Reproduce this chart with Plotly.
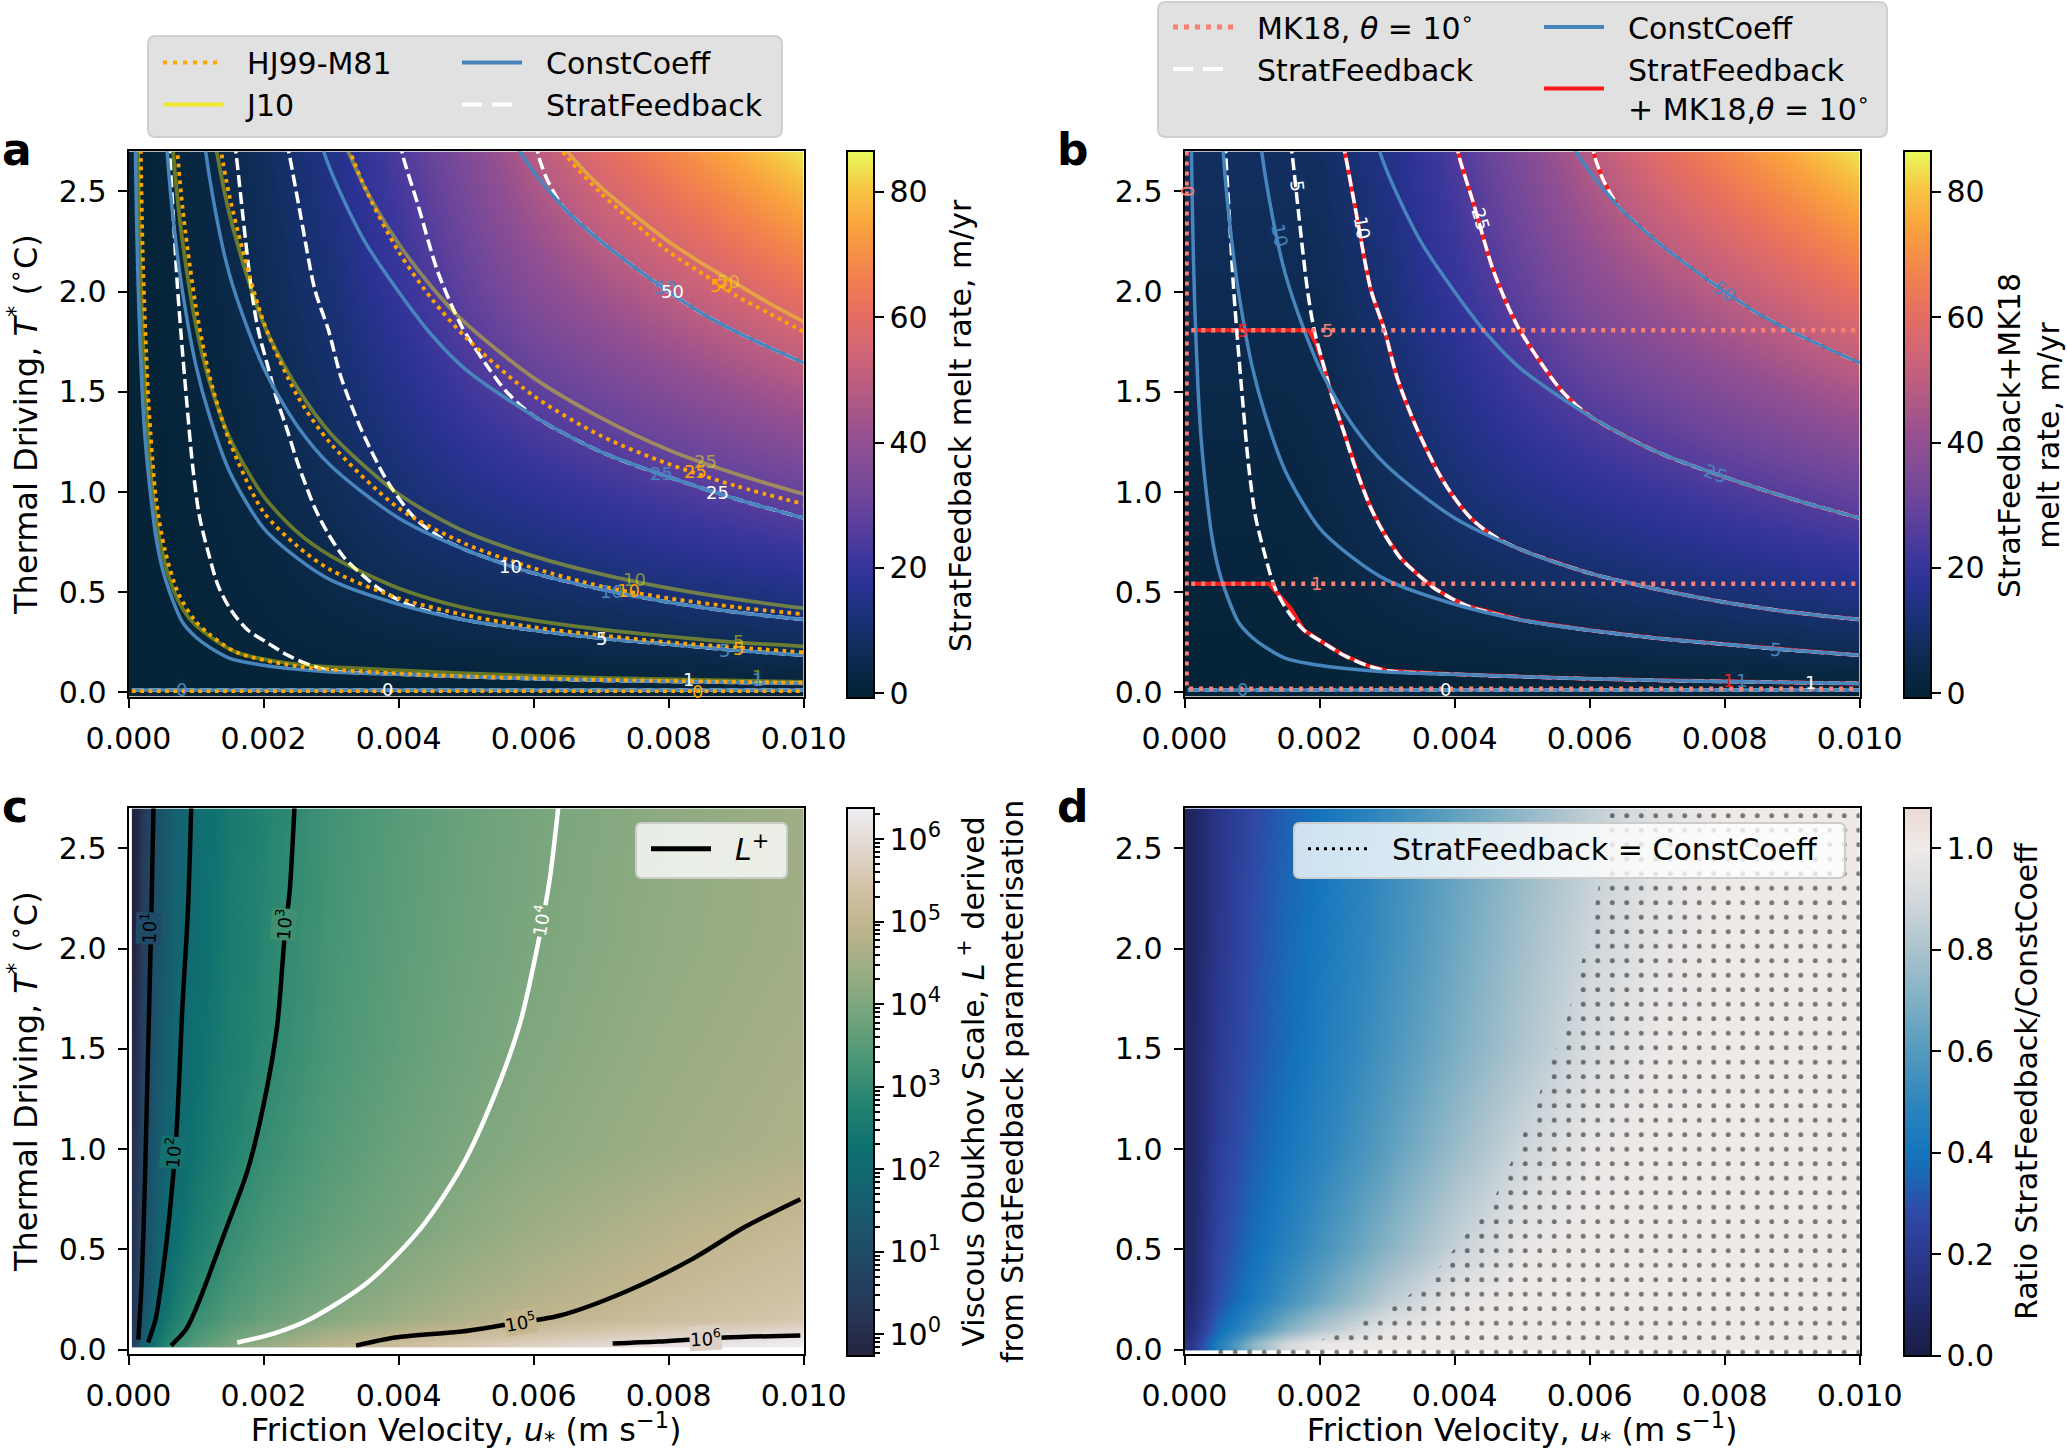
import plotly.graph_objects as go

W, H = 2067, 1453
FONT = "DejaVu Sans"

# ======================= values =======================
# ---- background fields of panels a and b (melt rate, m/yr) ----
U_AB = [0.0001, 0.0005, 0.0010, 0.0015, 0.0020, 0.0030, 0.0040, 0.0050, 0.0060, 0.0070, 0.0080, 0.0090, 0.0100]
T_AB = [0.02, 0.25, 0.5, 1.0, 1.5, 2.0, 2.7]
MELT_SF = [
    [0.00, 0.01, 0.03, 0.05, 0.06, 0.09, 0.12, 0.15, 0.18, 0.21, 0.24, 0.27, 0.30],
    [0.01, 0.12, 0.36, 0.70, 1.15, 2.16, 2.88, 3.60, 4.32, 5.04, 5.76, 6.48, 7.20],
    [0.01, 0.21, 0.63, 1.21, 1.94, 3.88, 5.88, 7.35, 8.82, 10.3, 11.8, 13.2, 14.7],
    [0.02, 0.37, 1.10, 2.14, 3.39, 6.77, 11.1, 14.9, 17.8, 20.8, 23.8, 26.7, 29.7],
    [0.04, 0.48, 1.50, 3.01, 4.74, 9.45, 15.4, 21.9, 27.4, 31.9, 36.5, 41.0, 45.6],
    [0.04, 0.62, 1.92, 3.81, 6.08, 11.9, 19.7, 28.3, 36.8, 43.5, 49.7, 55.8, 62.1],
    [0.06, 0.76, 2.47, 4.83, 7.77, 15.0, 24.4, 35.6, 48.3, 59.3, 67.8, 76.2, 84.7],
]
MELT_SF_MK18 = [
    [0.01, 0.01, 0.03, 0.05, 0.06, 0.09, 0.12, 0.15, 0.18, 0.21, 0.24, 0.27, 0.30],
    [0.36, 0.36, 0.36, 0.70, 1.15, 2.16, 2.88, 3.60, 4.32, 5.04, 5.76, 6.48, 7.20],
    [0.90, 0.90, 0.90, 1.21, 1.94, 3.88, 5.88, 7.35, 8.82, 10.3, 11.8, 13.2, 14.7],
    [2.27, 2.27, 2.27, 2.27, 3.39, 6.77, 11.1, 14.9, 17.8, 20.8, 23.8, 26.7, 29.7],
    [3.90, 3.90, 3.90, 3.90, 4.74, 9.45, 15.4, 21.9, 27.4, 31.9, 36.5, 41.0, 45.6],
    [5.70, 5.70, 5.70, 5.70, 6.08, 11.9, 19.7, 28.3, 36.8, 43.5, 49.7, 55.8, 62.1],
    [8.50, 8.50, 8.50, 8.50, 8.50, 15.0, 24.4, 35.6, 48.3, 59.3, 67.8, 76.2, 84.7],
]

# ---- panel c: log10 of the viscous Obukhov scale L+ ----
U_C = [0.0001, 0.0002, 0.0004, 0.0007, 0.0010, 0.0015, 0.0020, 0.0030, 0.0040, 0.0050, 0.0060, 0.0080, 0.0100]
T_C = [0.025, 0.05, 0.15, 0.3, 0.6, 1.0, 1.5, 2.0, 2.7]
LOG10_LPLUS = [
    [0.70, 1.60, 2.45, 3.12, 3.52, 3.98, 4.35, 4.86, 5.24, 5.52, 5.76, 6.13, 6.38],
    [0.56, 1.47, 2.35, 3.03, 3.41, 3.84, 4.18, 4.72, 5.10, 5.37, 5.60, 5.95, 6.23],
    [0.32, 1.21, 2.09, 2.74, 3.12, 3.48, 3.74, 4.13, 4.47, 4.73, 4.95, 5.28, 5.54],
    [0.29, 1.06, 1.82, 2.47, 2.89, 3.28, 3.54, 3.90, 4.22, 4.51, 4.74, 5.10, 5.38],
    [0.22, 0.91, 1.60, 2.17, 2.58, 3.03, 3.30, 3.67, 3.93, 4.20, 4.45, 4.83, 5.13],
    [0.11, 0.78, 1.46, 2.00, 2.36, 2.77, 3.07, 3.48, 3.77, 3.99, 4.18, 4.48, 4.71],
    [-0.06, 0.63, 1.32, 1.88, 2.23, 2.63, 2.91, 3.33, 3.63, 3.87, 4.06, 4.37, 4.61],
    [-0.24, 0.48, 1.20, 1.78, 2.14, 2.56, 2.86, 3.27, 3.57, 3.80, 3.98, 4.28, 4.51],
    [-0.42, 0.33, 1.09, 1.69, 2.08, 2.49, 2.79, 3.21, 3.51, 3.74, 3.93, 4.23, 4.47],
]

# ---- panel d: ratio StratFeedback / ConstCoeff ----
T_D = [0.03, 0.1, 0.25, 0.5, 1.0, 1.5, 2.0, 2.7]
RATIO = [
    [0.18, 0.46, 0.72, 0.90, 0.98, 1.00, 1.00, 1.00, 1.00, 1.00, 1.00, 1.00, 1.00],
    [0.14, 0.37, 0.55, 0.70, 0.82, 0.97, 1.00, 1.00, 1.00, 1.00, 1.00, 1.00, 1.00],
    [0.10, 0.29, 0.43, 0.55, 0.65, 0.84, 0.97, 1.00, 1.00, 1.00, 1.00, 1.00, 1.00],
    [0.09, 0.26, 0.38, 0.47, 0.56, 0.72, 0.87, 0.98, 1.00, 1.00, 1.00, 1.00, 1.00],
    [0.08, 0.23, 0.33, 0.41, 0.48, 0.62, 0.76, 0.89, 0.98, 1.00, 1.00, 1.00, 1.00],
    [0.08, 0.21, 0.30, 0.37, 0.44, 0.57, 0.69, 0.81, 0.92, 0.99, 1.00, 1.00, 1.00],
    [0.07, 0.19, 0.29, 0.36, 0.42, 0.54, 0.66, 0.78, 0.89, 0.97, 1.00, 1.00, 1.00],
    [0.07, 0.18, 0.27, 0.34, 0.40, 0.52, 0.63, 0.74, 0.85, 0.95, 1.00, 1.00, 1.00],
]
# region where StratFeedback = ConstCoeff (outline, u*, T*)
D_EQ_U = [0.00195, 0.00253, 0.00312, 0.00360, 0.00409, 0.00458, 0.00487, 0.00516, 0.00545,
          0.00565, 0.00579, 0.00599, 0.00613, 0.00623, 0.00631, 0.0102, 0.0102, 0.0004, 0.0004]
D_EQ_T = [0.035, 0.127, 0.22, 0.34, 0.54, 0.75, 0.96, 1.19, 1.45,
          1.63, 1.82, 2.07, 2.30, 2.49, 2.72, 2.72, -0.03, -0.03, 0.016]

# ---- melt-rate contour lines (u*, T*) ----
CC_0 = [(0.00005, 0.012), (0.0100, 0.012)]
CC_1 = [(0.00010, 2.75), (0.00012, 2.35), (0.00015, 1.95), (0.00020, 1.52), (0.00025, 1.25),
        (0.00030, 1.07), (0.00040, 0.79), (0.00050, 0.62), (0.00060, 0.51), (0.00080, 0.35),
        (0.00100, 0.275), (0.00120, 0.225), (0.00150, 0.17), (0.00200, 0.135), (0.00250, 0.115),
        (0.00300, 0.102), (0.00400, 0.09), (0.00500, 0.078), (0.00600, 0.068), (0.00700, 0.060),
        (0.00800, 0.054), (0.00900, 0.049), (0.01000, 0.045)]
CC_5 = [(0.00050, 3.1), (0.00060, 2.58), (0.00070, 2.25), (0.00080, 2.0), (0.00100, 1.63),
        (0.00120, 1.38), (0.00150, 1.1), (0.00200, 0.82), (0.00250, 0.67), (0.00300, 0.56),
        (0.00400, 0.44), (0.00500, 0.36), (0.00600, 0.31), (0.00700, 0.27), (0.00800, 0.24),
        (0.00900, 0.21), (0.01000, 0.185)]
CC_10 = [(0.00100, 3.1), (0.00120, 2.57), (0.00150, 2.08), (0.00200, 1.62), (0.00250, 1.33),
         (0.00300, 1.13), (0.00400, 0.87), (0.00500, 0.71), (0.00600, 0.595), (0.00700, 0.515),
         (0.00800, 0.45), (0.00900, 0.40), (0.01000, 0.364)]
CC_25 = [(0.00250, 3.1), (0.00300, 2.6), (0.00350, 2.25), (0.00400, 2.0), (0.00450, 1.78),
         (0.00500, 1.61), (0.00600, 1.38), (0.00700, 1.2), (0.00800, 1.075), (0.00900, 0.965),
         (0.01000, 0.87)]
CC_50 = [(0.00550, 2.85), (0.00600, 2.6), (0.00650, 2.4), (0.00700, 2.25), (0.00750, 2.12),
         (0.00800, 2.0), (0.00850, 1.89), (0.00900, 1.8), (0.00950, 1.72), (0.01000, 1.645)]

HJ_0 = [(0.00005, 0.006), (0.0100, 0.006)]
HJ_1 = [(0.00018, 2.75), (0.00021, 2.2), (0.00025, 1.8), (0.00030, 1.43), (0.00041, 0.96),
        (0.00054, 0.71), (0.00073, 0.50), (0.00098, 0.36), (0.0012, 0.29), (0.0016, 0.20),
        (0.0025, 0.13), (0.0037, 0.10), (0.0050, 0.08), (0.0070, 0.063), (0.0100, 0.048)]
HJ_5 = [(0.0006, 3.3), (0.0007, 2.8), (0.0008, 2.42), (0.0010, 1.92), (0.0012, 1.58),
        (0.0015, 1.25), (0.0020, 0.90), (0.0025, 0.73), (0.0030, 0.61), (0.0040, 0.47),
        (0.0050, 0.385), (0.0060, 0.325), (0.0070, 0.285), (0.0080, 0.25), (0.0090, 0.225),
        (0.0100, 0.20)]
HJ_10 = [(0.0013, 2.85), (0.0015, 2.47), (0.0020, 1.85), (0.0025, 1.48), (0.0030, 1.24),
         (0.0040, 0.92), (0.0050, 0.74), (0.0060, 0.62), (0.0070, 0.53), (0.0080, 0.47),
         (0.0090, 0.425), (0.0100, 0.39)]
HJ_25 = [(0.0030, 2.95), (0.0035, 2.52), (0.0040, 2.2), (0.0045, 1.96), (0.0050, 1.77),
         (0.0060, 1.48), (0.0070, 1.28), (0.0080, 1.14), (0.0090, 1.03), (0.0100, 0.94)]
HJ_50 = [(0.0060, 2.9), (0.0065, 2.67), (0.0070, 2.49), (0.0075, 2.34), (0.0080, 2.2),
         (0.0085, 2.09), (0.0090, 1.98), (0.0095, 1.89), (0.0100, 1.80)]

J10_1 = [(0.00014, 2.75), (0.00017, 2.2), (0.00021, 1.8), (0.00027, 1.4), (0.00036, 1.0),
         (0.00050, 0.70), (0.00068, 0.50), (0.00090, 0.37), (0.0012, 0.28), (0.0016, 0.20),
         (0.0025, 0.14), (0.0037, 0.115), (0.0050, 0.095), (0.0070, 0.072), (0.0100, 0.052)]
J10_5 = [(0.0006, 2.95), (0.0007, 2.55), (0.0008, 2.25), (0.0010, 1.83), (0.0012, 1.55),
         (0.0015, 1.27), (0.0020, 0.98), (0.0025, 0.80), (0.0030, 0.68), (0.0040, 0.52),
         (0.0050, 0.42), (0.0060, 0.36), (0.0070, 0.315), (0.0080, 0.28), (0.0090, 0.25),
         (0.0100, 0.23)]
J10_10 = [(0.0012, 2.9), (0.0015, 2.38), (0.0020, 1.84), (0.0025, 1.52), (0.0030, 1.29),
          (0.0040, 0.99), (0.0050, 0.80), (0.0060, 0.68), (0.0070, 0.59), (0.0080, 0.52),
          (0.0090, 0.465), (0.0100, 0.42)]
J10_25 = [(0.0030, 2.9), (0.0035, 2.52), (0.0040, 2.24), (0.0045, 2.02), (0.0050, 1.84),
          (0.0060, 1.57), (0.0070, 1.37), (0.0080, 1.21), (0.0090, 1.09), (0.0100, 0.99)]
J10_50 = [(0.0060, 2.95), (0.0065, 2.7), (0.0070, 2.52), (0.0075, 2.38), (0.0080, 2.25),
          (0.0085, 2.14), (0.0090, 2.04), (0.0095, 1.94), (0.0100, 1.85)]

SF_0 = [(0.00005, 0.012), (0.0100, 0.012)]
SF_1 = [(0.00060, 2.75), (0.00066, 2.4), (0.00072, 2.05), (0.00078, 1.78), (0.00086, 1.46),
        (0.00095, 1.13), (0.00105, 0.88), (0.00118, 0.70), (0.00133, 0.53), (0.00152, 0.41),
        (0.00177, 0.31), (0.00207, 0.245), (0.00236, 0.185), (0.0027, 0.135), (0.0030, 0.108),
        (0.0040, 0.09), (0.0050, 0.078), (0.0060, 0.068), (0.0070, 0.060), (0.0080, 0.054),
        (0.0090, 0.049), (0.0100, 0.045)]
SF_5 = [(0.00157, 2.75), (0.00160, 2.67), (0.00170, 2.36), (0.00182, 2.01), (0.00192, 1.81),
        (0.00207, 1.62), (0.00219, 1.47), (0.00236, 1.30), (0.00250, 1.15), (0.00262, 1.04),
        (0.00276, 0.92), (0.00296, 0.79), (0.00320, 0.67), (0.00345, 0.59), (0.00370, 0.52),
        (0.00395, 0.47), (0.0042, 0.43), (0.0050, 0.36), (0.0060, 0.31), (0.0070, 0.27),
        (0.0080, 0.24), (0.0090, 0.21), (0.0100, 0.185)]
SF_10 = [(0.00234, 2.75), (0.00239, 2.67), (0.00256, 2.36), (0.00276, 2.01), (0.00296, 1.81),
         (0.00315, 1.57), (0.00345, 1.31), (0.00384, 1.05), (0.00424, 0.87), (0.00463, 0.77),
         (0.0050, 0.71), (0.0060, 0.595), (0.0070, 0.515), (0.0080, 0.45), (0.0090, 0.40),
         (0.0100, 0.364)]
SF_25 = [(0.00402, 2.75), (0.00407, 2.67), (0.00429, 2.43), (0.00458, 2.10), (0.00493, 1.83),
         (0.00533, 1.62), (0.0056, 1.50), (0.0060, 1.38), (0.0070, 1.2), (0.0080, 1.075),
         (0.0090, 0.965), (0.0100, 0.87)]
SF_50 = [(0.00603, 2.75), (0.00608, 2.67), (0.0062, 2.56), (0.0064, 2.44), (0.0065, 2.4),
         (0.0070, 2.25), (0.0075, 2.12), (0.0080, 2.0), (0.0085, 1.89), (0.0090, 1.8),
         (0.0095, 1.72), (0.0100, 1.645)]

MK_0 = [(0.00003, 2.75), (0.00003, 0.018), (0.0100, 0.018)]
MK_1 = [(0.00010, 0.5425), (0.0100, 0.5425)]
MK_5 = [(0.00010, 1.808), (0.0100, 1.808)]
RED_1 = [(0.00013, 0.5425), (0.00125, 0.5425), (0.00157, 0.42), (0.00177, 0.31), (0.00207, 0.245),
         (0.00236, 0.185), (0.0027, 0.135), (0.0030, 0.108), (0.0040, 0.09), (0.0050, 0.078),
         (0.0060, 0.068), (0.0070, 0.060), (0.0080, 0.054), (0.0090, 0.049), (0.0100, 0.045)]
RED_5 = [(0.00014, 1.808), (0.00184, 1.808), (0.00195, 1.74), (0.00207, 1.62), (0.00219, 1.47),
         (0.00236, 1.30), (0.00250, 1.15), (0.00262, 1.04), (0.00276, 0.92), (0.00296, 0.79),
         (0.00320, 0.67), (0.00345, 0.59), (0.00370, 0.52), (0.00395, 0.47), (0.0042, 0.43),
         (0.0050, 0.36), (0.0060, 0.31), (0.0070, 0.27), (0.0080, 0.24), (0.0090, 0.21),
         (0.0100, 0.185)]

# ---- L+ contour lines (panel c) ----
LP_1 = [(0.000146, 0.05), (0.000195, 0.34), (0.00024, 0.8), (0.00029, 1.49), (0.00034, 2.19), (0.00037, 2.72)]
LP_2 = [(0.00029, 0.035), (0.00040, 0.15), (0.00049, 0.34), (0.00061, 0.68), (0.00071, 1.08),
        (0.00080, 1.72), (0.00088, 2.19), (0.00093, 2.72)]
LP_3 = [(0.00063, 0.02), (0.00085, 0.10), (0.00102, 0.22), (0.00141, 0.57), (0.00176, 0.89),
        (0.0020, 1.22), (0.0022, 1.61), (0.00231, 2.05), (0.00239, 2.30), (0.00246, 2.72)]
LP_4 = [(0.00161, 0.035), (0.00215, 0.08), (0.00268, 0.15), (0.00356, 0.34), (0.00434, 0.61),
        (0.00493, 0.91), (0.00541, 1.26), (0.0058, 1.63), (0.00608, 2.05), (0.00624, 2.35), (0.00637, 2.72)]
LP_5 = [(0.00337, 0.02), (0.00395, 0.06), (0.00493, 0.09), (0.00551, 0.12), (0.00639, 0.17),
        (0.00737, 0.29), (0.00834, 0.45), (0.00912, 0.61), (0.00995, 0.75)]
LP_6 = [(0.00717, 0.03), (0.00785, 0.04), (0.00883, 0.06), (0.00995, 0.07)]

# ---- contour labels: (u*, T*, text[, angle]) ----
LAB_A_SF = [(0.00805, 2.0, "50"), (0.00873, 1.0, "25"), (0.00566, 0.63, "10"),
            (0.0070, 0.27, "5"), (0.0083, 0.065, "1"), (0.00383, 0.012, "0")]
LAB_A_CC = [(0.00795, 2.02, "50"), (0.0079, 1.09, "25"), (0.00716, 0.506, "10"),
            (0.00883, 0.21, "5"), (0.00932, 0.065, "1"), (0.00078, 0.012, "0")]
LAB_A_HJ = [(0.00878, 2.03, "50"), (0.0084, 1.10, "25"), (0.0074, 0.51, "10"),
            (0.00904, 0.22, "5"), (0.00843, 0.006, "0")]
LAB_A_J10 = [(0.00888, 2.05, "50"), (0.00855, 1.15, "25"), (0.0075, 0.565, "10"),
             (0.00904, 0.256, "5"), (0.00932, 0.08, "1")]
LAB_B_CC = [(0.0080, 2.0, "50", 34), (0.00786, 1.09, "25", 20), (0.00141, 2.28, "10", 78),
            (0.00875, 0.215, "5", 5), (0.00825, 0.058, "1", 0), (0.00086, 0.012, "0", 0)]
LAB_B_SF = [(0.00167, 2.53, "5", 84), (0.00263, 2.32, "10", 80), (0.00439, 2.36, "25", 73),
            (0.00927, 0.05, "1", 0), (0.00387, 0.012, "0", 0)]
LAB_B_RED = [(0.00086, 1.808, "5", 0), (0.00806, 0.058, "1", 0)]
LAB_B_MK = [(0.00005, 2.5, "0", 90), (0.00212, 1.808, "5", 0), (0.00195, 0.5425, "1", 0)]
LAB_C = [(0.00029, 2.1, "10<sup>1</sup>", -88), (0.00066, 0.98, "10<sup>2</sup>", -85),
         (0.00229, 2.12, "10<sup>3</sup>", -85), (0.0061, 2.14, "10<sup>4</sup>", -80),
         (0.0058, 0.14, "10<sup>5</sup>", -10), (0.00854, 0.06, "10<sup>6</sup>", -3)]

X_TICKS = [0.000, 0.002, 0.004, 0.006, 0.008, 0.010]
X_TICKTEXT = ["0.000", "0.002", "0.004", "0.006", "0.008", "0.010"]
Y_TICKS = [0.0, 0.5, 1.0, 1.5, 2.0, 2.5]
Y_TICKTEXT = ["0.0", "0.5", "1.0", "1.5", "2.0", "2.5"]
MELT_TICKS = [0, 20, 40, 60, 80]
LPLUS_TICKS = [0, 1, 2, 3, 4, 5, 6]
LPLUS_TICKTEXT = ["10<sup>%d</sup>" % k for k in LPLUS_TICKS]
LPLUS_MINOR_STEPS = [0.30103, 0.47712, 0.60206, 0.69897, 0.77815, 0.84510, 0.90309, 0.95424]
RATIO_TICKS = [0.0, 0.2, 0.4, 0.6, 0.8, 1.0]

# ======================= styles =======================
THERMAL = [[0.00, "#042333"], [0.05, "#0a2847"], [0.10, "#112e5e"], [0.15, "#1b3178"],
           [0.20, "#283290"], [0.25, "#3a369b"], [0.30, "#523c9c"], [0.35, "#68449b"],
           [0.40, "#7b4a98"], [0.47, "#924f91"], [0.55, "#b35a84"], [0.62, "#cc6378"],
           [0.70, "#e46e62"], [0.78, "#f2844c"], [0.86, "#f9a23e"], [0.93, "#f7c543"],
           [1.00, "#e8fa5b"]]
RAIN_R = [[0.00, "#25243f"], [0.10, "#263a5a"], [0.20, "#1f4d68"], [0.30, "#146270"],
          [0.38, "#0f7170"], [0.46, "#238370"], [0.54, "#4a9676"], [0.62, "#73a47c"],
          [0.70, "#9aad84"], [0.78, "#bdb48c"], [0.86, "#d3c3a8"], [0.93, "#e2d8d0"],
          [1.00, "#eeedf2"]]
BALANCE_LOW = [[0.000, "#181c43"], [0.093, "#222a6c"], [0.185, "#2b3990"], [0.260, "#2f4aa6"],
               [0.324, "#1c65b2"], [0.370, "#1574bd"], [0.463, "#2f86bd"], [0.556, "#549abe"],
               [0.648, "#80b0c4"], [0.741, "#abc3cd"], [0.833, "#d2d8dc"], [0.926, "#efeae8"],
               [1.000, "#ecdad3"]]

BLUE = "#4885bd"
ORANGE = "#ffa500"
J10_LINE = "rgba(255,255,0,0.38)"
J10_LEG = "#efe82c"
SALMON = "#fa8072"
RED = "#ff1a1a"
LABEL_SIZE = 18
TICK_SIZE = 30
TITLE_SIZE = 32
CBTITLE_SIZE = 30

XA = [128.5 / W, 803.7 / W]
XB = [1184.5 / W, 1859.7 / W]
YT = [1 - 696.8 / H, 1 - 151.4 / H]
YB = [1 - 1354.0 / H, 1 - 808.4 / H]


def xy(curves):
    xs, ys = [], []
    for c in curves:
        xs += [p[0] for p in c] + [None]
        ys += [p[1] for p in c] + [None]
    return xs, ys


def lines(curves, color, width, dash, ax, shape="spline"):
    x, y = xy(curves)
    return go.Scatter(x=x, y=y, mode="lines", xaxis=ax[0], yaxis=ax[1],
                      line=dict(color=color, width=width, dash=dash, shape=shape, smoothing=0.8),
                      showlegend=False, hoverinfo="skip", connectgaps=False)


def proxy(name, color, width, dash, legend, ax):
    return go.Scatter(x=[None], y=[None], mode="lines", name="\u00a0\u00a0" + name,
                      line=dict(color=color, width=width, dash=dash),
                      legend=legend, xaxis=ax[0], yaxis=ax[1], showlegend=True, hoverinfo="skip")


def cbar(xpx, top, bottom, ticks, ticktext=None, ticklen=9, labels=True):
    d = dict(x=xpx / W, xanchor="left", xpad=0, y=1 - (top + bottom) / 2 / H, yanchor="middle",
             ypad=0, len=(bottom - top) / H, lenmode="fraction", thickness=26.5,
             thicknessmode="pixels", outlinewidth=2, outlinecolor="black", ticks="outside",
             ticklen=ticklen, tickwidth=2, tickcolor="black",
             tickfont=dict(size=TICK_SIZE, family=FONT), tickvals=ticks, showticklabels=labels)
    if ticktext is not None:
        d["ticktext"] = ticktext
    return d


A = ("x", "y")
B = ("x2", "y2")
C = ("x3", "y3")
D = ("x4", "y4")

fig = go.Figure()

# ---------------- panel a ----------------
fig.add_trace(go.Heatmap(x=U_AB, y=T_AB, z=MELT_SF, colorscale=THERMAL, zmin=-0.8, zmax=86.5,
                         zsmooth="best", xaxis="x", yaxis="y", hoverinfo="skip",
                         colorbar=cbar(846.5, 151.4, 698, MELT_TICKS)))
fig.add_trace(lines([SF_0, SF_1, SF_5, SF_10, SF_25, SF_50], "white", 3.5, "12px,5px", A))
fig.add_trace(lines([J10_1, J10_5, J10_10, J10_25, J10_50], J10_LINE, 3.8, "solid", A))
fig.add_trace(lines([CC_0, CC_1, CC_5, CC_10, CC_25, CC_50], BLUE, 3.5, "solid", A))
fig.add_trace(lines([HJ_0, HJ_1, HJ_5, HJ_10, HJ_25, HJ_50], ORANGE, 3.8, "3.8px,4.5px", A))
fig.add_trace(proxy("HJ99-M81", ORANGE, 4, "4px,6px", "legend", A))
fig.add_trace(proxy("J10", J10_LEG, 4, "solid", "legend", A))
fig.add_trace(proxy("ConstCoeff", BLUE, 4, "solid", "legend2", A))
fig.add_trace(proxy("StratFeedback", "white", 4, "20px,10px", "legend2", A))

# ---------------- panel b ----------------
fig.add_trace(go.Heatmap(x=U_AB, y=T_AB, z=MELT_SF_MK18, colorscale=THERMAL, zmin=-0.8, zmax=86.5,
                         zsmooth="best", xaxis="x2", yaxis="y2", hoverinfo="skip",
                         colorbar=cbar(1904, 151.4, 698, MELT_TICKS)))
fig.add_trace(lines([RED_1, RED_5], RED, 4, "solid", B, shape="linear"))
fig.add_trace(lines([SF_10, SF_25, SF_50], RED, 4, "solid", B))
fig.add_trace(lines([SF_0, SF_1, SF_5, SF_10, SF_25, SF_50], "white", 3.5, "12px,5px", B))
fig.add_trace(lines([CC_0, CC_1, CC_5, CC_10, CC_25, CC_50], BLUE, 3.5, "solid", B))
fig.add_trace(lines([MK_0, MK_1, MK_5], SALMON, 4.5, "4px,6px", B, shape="linear"))
fig.add_trace(proxy("MK18, <i>θ</i> = 10<sup>∘</sup>", SALMON, 5, "5px,6px", "legend3", B))
fig.add_trace(proxy("StratFeedback", "white", 4, "20px,10px", "legend3", B))
fig.add_trace(proxy("ConstCoeff", BLUE, 4, "solid", "legend4", B))
fig.add_trace(proxy("StratFeedback<br>\u00a0\u00a0+ MK18,<i>θ</i> = 10<sup>∘</sup>", RED, 4, "solid", "legend4", B))

# ---------------- panel c ----------------
fig.add_trace(go.Heatmap(x=U_C, y=T_C, z=LOG10_LPLUS, colorscale=RAIN_R, zmin=-0.26, zmax=6.38,
                         zsmooth="best", xaxis="x3", yaxis="y3", hoverinfo="skip",
                         colorbar=cbar(846.5, 808.0, 1355.6, LPLUS_TICKS, LPLUS_TICKTEXT)))
MINOR = [dec + s for dec in range(-1, 7) for s in LPLUS_MINOR_STEPS if -0.26 < dec + s < 6.38]
fig.add_trace(go.Heatmap(x=U_C, y=T_C, z=LOG10_LPLUS, colorscale=RAIN_R, zmin=-0.26, zmax=6.38,
                         zsmooth="best", xaxis="x3", yaxis="y3", hoverinfo="skip", opacity=0,
                         colorbar=cbar(846.5, 808.0, 1355.6, MINOR, ticklen=5, labels=False)))
fig.add_trace(lines([LP_1, LP_2, LP_3, LP_5, LP_6], "black", 4.5, "solid", C))
fig.add_trace(lines([LP_4], "white", 4.5, "solid", C))
fig.add_trace(proxy("<i>L</i><sup>+</sup>", "black", 5, "solid", "legend5", C))

# ---------------- panel d ----------------
fig.add_trace(go.Heatmap(x=U_AB, y=T_D, z=RATIO, colorscale=BALANCE_LOW, zmin=0.0, zmax=1.08,
                         zsmooth="best", xaxis="x4", yaxis="y4", hoverinfo="skip",
                         colorbar=cbar(1904, 808.0, 1355.6, RATIO_TICKS,
                                       ["%.1f" % v for v in RATIO_TICKS])))
fig.add_trace(go.Scatter(x=D_EQ_U, y=D_EQ_T, mode="lines", fill="toself",
                         fillcolor="rgba(0,0,0,0)", line=dict(width=0, color="black"),
                         fillpattern=dict(shape=".", size=14.5, solidity=0.09, fgcolor="black",
                                          bgcolor="rgba(0,0,0,0)"),
                         showlegend=False, xaxis="x4", yaxis="y4", hoverinfo="skip"))
fig.add_trace(proxy("StratFeedback = ConstCoeff", "black", 3, "3px,5px", "legend6", D))

# ---------------- annotations ----------------
ann = []


def labels(items, ax, color):
    for it in items:
        angle = it[3] if len(it) > 3 else 0
        ann.append(dict(x=it[0], y=it[1], xref=ax[0], yref=ax[1], text=it[2], showarrow=False,
                        textangle=angle, bgcolor="rgba(255,255,255,0.01)", borderpad=0,
                        font=dict(size=LABEL_SIZE, color=color, family=FONT)))


labels(LAB_A_J10, A, "rgba(255,255,0,0.45)")
labels(LAB_A_HJ, A, ORANGE)
labels(LAB_A_CC, A, BLUE)
labels(LAB_A_SF, A, "white")
labels(LAB_B_CC, B, BLUE)
labels(LAB_B_SF, B, "white")
labels(LAB_B_RED, B, RED)
labels(LAB_B_MK, B, SALMON)
C_BG = ["#1f4a68", "#157070", "#3e9070", "#7da67e", "#c3b58e", "#dcd0c4"]
for i, it in enumerate(LAB_C):
    ann.append(dict(x=it[0], y=it[1], xref="x3", yref="y3", text=it[2], showarrow=False,
                    textangle=it[3], font=dict(size=LABEL_SIZE, color="white" if i == 3 else "black", family=FONT),
                    bgcolor=C_BG[i], borderpad=0))

for letter, xpx, ypx in [("a", 0, 149), ("b", 1055, 149), ("c", 0, 806), ("d", 1055, 806)]:
    ann.append(dict(x=xpx / W, y=1 - ypx / H, xref="paper", yref="paper", text="<b>%s</b>" % letter,
                    showarrow=False, xanchor="left", yanchor="middle",
                    font=dict(size=44, color="black", family=FONT)))

for txt, xpx, ypx in [("StratFeedback melt rate, m/yr", 960, 426),
                      ("StratFeedback+MK18<br>melt rate, m/yr", 2029, 436),
                      ("Viscous Obukhov Scale, <i>L</i><sup> +</sup> derived<br>from StratFeedback parameterisation", 991, 1082),
                      ("Ratio StratFeedback/ConstCoeff", 2026, 1081)]:
    ann.append(dict(x=xpx / W, y=1 - ypx / H, xref="paper", yref="paper", text=txt,
                    showarrow=False, textangle=-90, xanchor="center", yanchor="middle",
                    font=dict(size=CBTITLE_SIZE, color="black", family=FONT)))


# ---------------- legend boxes ----------------
def rbox(x0, y0, x1, y1, r, fill, line, layer):
    X = lambda p: p / W
    Y = lambda p: 1 - p / H
    path = ("M {a},{b} L {c},{b} Q {d},{b} {d},{e} L {d},{f} Q {d},{g} {c},{g} "
            "L {a},{g} Q {h},{g} {h},{f} L {h},{e} Q {h},{b} {a},{b} Z").format(
        a=X(x0 + r), b=Y(y0), c=X(x1 - r), d=X(x1), e=Y(y0 + r), f=Y(y1 - r), g=Y(y1), h=X(x0))
    return dict(type="path", path=path, xref="paper", yref="paper", fillcolor=fill,
                line=dict(color=line, width=2), layer=layer)


shapes = [rbox(148, 36, 782, 137, 8, "#e1e1e1", "#cfcfcf", "below"),
          rbox(1158, 2, 1887, 137, 8, "#e1e1e1", "#cfcfcf", "below"),
          rbox(636, 823, 787, 878, 6, "rgba(255,255,255,0.8)", "#cccccc", "above"),
          rbox(1294, 823, 1845, 878, 6, "rgba(255,255,255,0.8)", "#cccccc", "above")]


def leg(xpx, ypx):
    return dict(x=xpx / W, y=1 - ypx / H, xanchor="left", yanchor="top", bgcolor="rgba(0,0,0,0)",
                borderwidth=0, font=dict(size=30, family=FONT, color="black"), itemwidth=60,
                tracegroupgap=0, traceorder="normal", itemclick=False, itemdoubleclick=False)


axis_common = dict(showline=True, linewidth=2, linecolor="black", mirror=True, ticks="outside",
                   ticklen=9, tickwidth=2, tickcolor="black", showgrid=False, zeroline=False,
                   tickfont=dict(size=TICK_SIZE, family=FONT), automargin=False, ticklabelstandoff=5)


def xax(dom, anchor, title=None):
    d = dict(axis_common, domain=dom, anchor=anchor, range=[0, 0.0100], tickvals=X_TICKS,
             ticktext=X_TICKTEXT)
    if title:
        d["title"] = dict(text=title, font=dict(size=TITLE_SIZE, family=FONT), standoff=14)
    return d


def yax(dom, anchor, title=None):
    d = dict(axis_common, domain=dom, anchor=anchor, range=[-0.022, 2.70], tickvals=Y_TICKS,
             ticktext=Y_TICKTEXT)
    if title:
        d["title"] = dict(text=title, font=dict(size=TITLE_SIZE, family=FONT), standoff=12)
    return d


YTITLE = "Thermal Driving, <i>T</i><sup>*</sup> (<sup>∘</sup>C)"
XTITLE = "Friction Velocity, <i>u</i><sub>*</sub> (m s<sup>−1</sup>)"

fig.update_layout(
    width=W, height=H, margin=dict(l=0, r=0, t=0, b=0), paper_bgcolor="white",
    plot_bgcolor="white", font=dict(family=FONT, size=30, color="black"), showlegend=True,
    xaxis=xax(XA, "y"), yaxis=yax(YT, "x", YTITLE),
    xaxis2=xax(XB, "y2"), yaxis2=yax(YT, "x2"),
    xaxis3=xax(XA, "y3", XTITLE), yaxis3=yax(YB, "x3", YTITLE),
    xaxis4=xax(XB, "y4", XTITLE), yaxis4=yax(YB, "x4"),
    legend=leg(158, 36.5), legend2=leg(457, 36.5),
    legend3=leg(1168, 1), legend4=leg(1539, 1),
    legend5=leg(646, 822.7), legend6=leg(1303, 822.7),
    annotations=ann, shapes=shapes,
)

fig.write_html("out.html", config={"displayModeBar": False},
               post_script="document.body.style.margin='0px';document.body.style.overflow='hidden';")
